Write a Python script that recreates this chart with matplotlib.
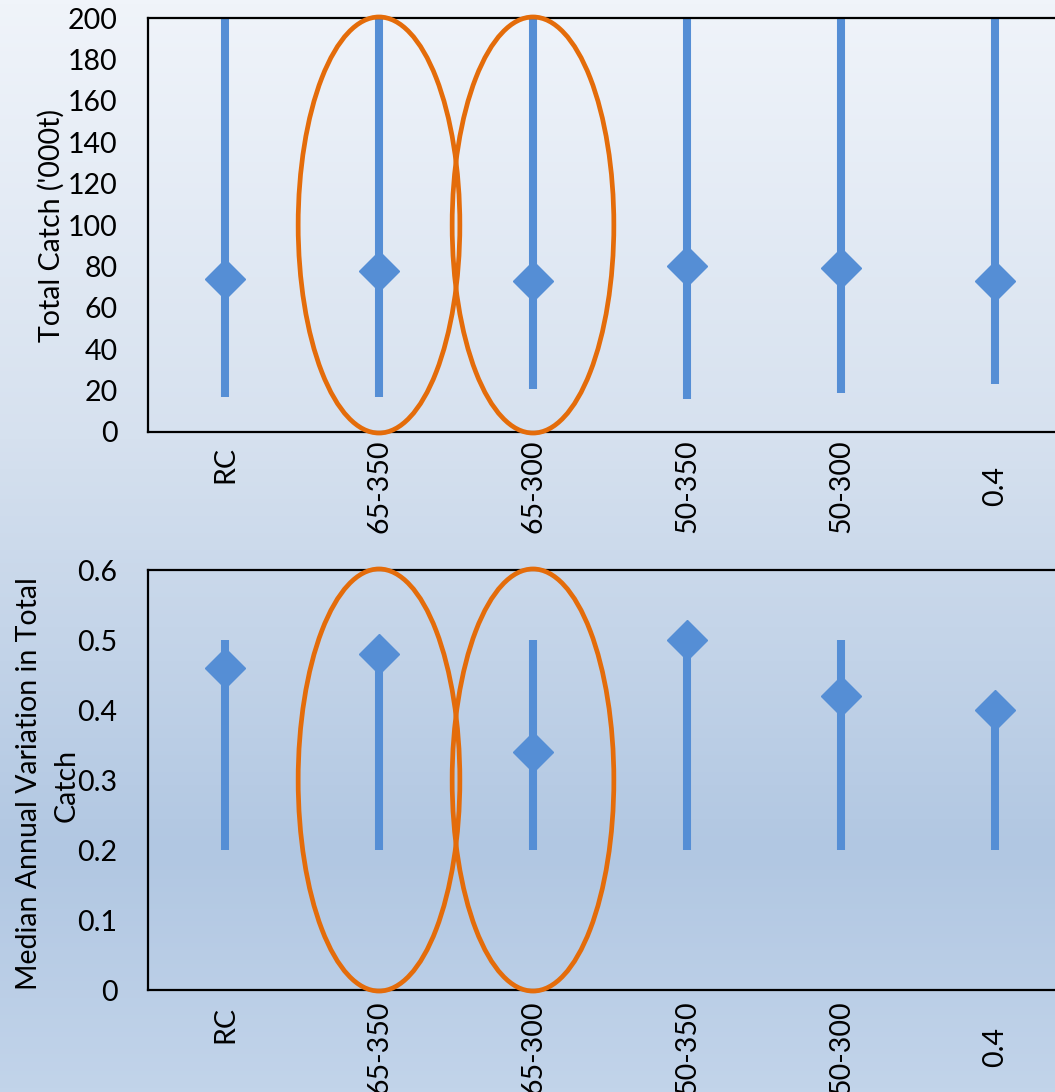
import numpy as np
import matplotlib
matplotlib.use("Agg")
import matplotlib.pyplot as plt
from matplotlib.colors import LinearSegmentedColormap
from matplotlib.patches import Ellipse
from matplotlib.transforms import ScaledTranslation

# Data
scenarios = ["RC", "65-350", "65-300", "50-350", "50-300", "0.4"]

catch_median = [74, 78, 73, 80, 79, 73]
catch_low = [17, 17, 21, 16, 19, 23]
catch_high = [200, 200, 200, 200, 200, 200]

aav_median = [0.46, 0.48, 0.34, 0.50, 0.42, 0.40]
aav_low = [0.20, 0.20, 0.20, 0.20, 0.20, 0.20]
aav_high = [0.50, 0.48, 0.50, 0.50, 0.50, 0.40]

highlight = ["65-350", "65-300"]

blue = "#558ed5"
orange = "#e46c0a"

plt.rcParams["font.family"] = ["Lato", "DejaVu Sans"]
plt.rcParams["font.size"] = 20.5

fig = plt.figure(figsize=(10.55, 10.92), dpi=100)

# Background gradient
bg = fig.add_axes([0, 0, 1, 1], zorder=-10)
cmap = LinearSegmentedColormap.from_list(
    "bg", [(0.0, "#f0f4fa"), (0.4, "#d6e1ef"), (0.78, "#b1c7e2"), (1.0, "#c2d4ea")]
)
bg.imshow(np.linspace(0, 1, 256).reshape(-1, 1), aspect="auto", cmap=cmap,
          extent=[0, 1, 0, 1], origin="upper")
bg.axis("off")

ax1 = fig.add_axes([0.1403, 0.6044, 0.8758, 0.3791])
ax2 = fig.add_axes([0.1403, 0.0934, 0.8758, 0.3846])


def draw_panel(ax, med, low, high, ymax, yticks, ytick_labels, pad):
    x = np.arange(len(scenarios))
    ax.set_facecolor("none")
    ax.vlines(x, low, high, color=blue, lw=5.8, zorder=2)
    ax.plot(x, med, "D", color=blue, markersize=20.5, zorder=3)
    ax.set_xlim(-0.5, len(scenarios) - 0.5)
    ax.set_ylim(0, ymax)
    ax.set_yticks(yticks)
    ax.set_yticklabels(ytick_labels)
    ax.set_xticks(x)
    ax.set_xticklabels(scenarios, rotation=90, va="center")
    ax.tick_params(axis="both", length=0)
    ax.tick_params(axis="y", pad=22)
    ax.tick_params(axis="x", pad=pad)
    for s in ax.spines.values():
        s.set_linewidth(1.6)
        s.set_color("black")
    ax.spines["right"].set_visible(False)
    # "RC" sits a little higher than the other labels
    lab = ax.get_xticklabels()[0]
    lab.set_transform(lab.get_transform() + ScaledTranslation(0, 22 / 100, fig.dpi_scale_trans))
    for name in highlight:
        i = scenarios.index(name)
        e = Ellipse((i, ymax / 2), 1.05, ymax * 1.005, fill=False, edgecolor=orange,
                    lw=3.4, zorder=4, clip_on=False)
        ax.add_patch(e)


draw_panel(ax1, catch_median, catch_low, catch_high, 200,
           np.arange(0, 201, 20), [str(v) for v in range(0, 201, 20)], 39)
draw_panel(ax2, aav_median, aav_low, aav_high, 0.6,
           np.arange(0, 0.61, 0.1), ["0", "0.1", "0.2", "0.3", "0.4", "0.5", "0.6"], 41)

fig.text(51 / 1055, 1 - 226 / 1092, "Total Catch ('000t)", rotation=90,
         ha="center", va="center")
fig.text(29 / 1055, 1 - 784 / 1092, "Median Annual Variation in Total", rotation=90,
         ha="center", va="center")
fig.text(67 / 1055, 1 - 785 / 1092, "Catch", rotation=90,
         ha="center", va="center")

fig.savefig("out.png", dpi=100)
